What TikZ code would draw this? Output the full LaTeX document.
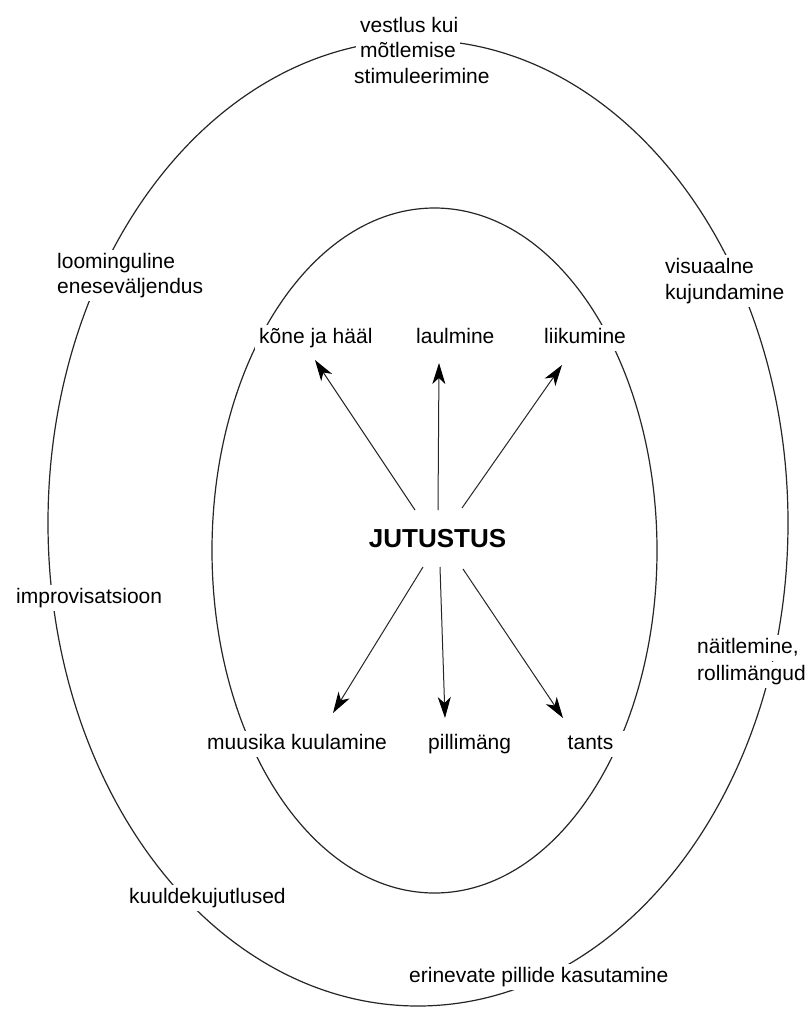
\documentclass[tikz,border=0pt]{standalone}
\usepackage{fontspec}
\setmainfont{Liberation Sans}
\usetikzlibrary{arrows.meta}
\begin{document}
\begin{tikzpicture}[x=1pt,y=-1pt,
  lbl/.style={font=\fontsize{21}{25}\selectfont, fill=white, inner xsep=4pt, inner ysep=2pt, text height=16pt, text depth=5.5pt, anchor=base west},
  ring/.style={draw=black!85, line width=1.2pt},
  arr/.style={draw=black!85, line width=1pt, -{Stealth[length=21pt,width=13pt,inset=6pt,color=black]}}]
\useasboundingbox[fill=white] (0,0) rectangle (804,1009);
% rings
\draw[ring] (418,523) ellipse [x radius=370, y radius=483];
\draw[ring] (434.5,550.5) ellipse [x radius=222.5, y radius=342.5];
% outer labels
\node[lbl] (v1) at (356,32) {vestlus kui};
\node[lbl] (v2) at (356,57.5) {mõtlemise};
\node[lbl] (v3) at (350,83) {stimuleerimine};
\node[lbl] (lo1) at (53,268) {loominguline};
\node[lbl] (lo2) at (53,293) {eneseväljendus};
\node[lbl] (vi1) at (661,273) {visuaalne};
\node[lbl] (vi2) at (661,299) {kujundamine};
\node[lbl] (imp) at (12,603) {improvisatsioon};
\node[lbl] (na1) at (693,653) {näitlemine,};
\node[lbl] (na2) at (693,680) {rollimängud};
\node[lbl] (ku) at (125,903) {kuuldekujutlused};
\node[lbl] (er) at (405,982) {erinevate pillide kasutamine};
% inner labels
\node[lbl] (kone) at (255,343) {kõne ja hääl};
\node[lbl] (laul) at (412,343) {laulmine};
\node[lbl] (liik) at (540,343) {liikumine};
\node[lbl] (muus) at (203,749) {muusika kuulamine};
\node[lbl] (pill) at (424,749) {pillimäng};
\node[lbl, anchor=base, minimum width=72pt] (tants) at (590.5,749) {tants};
% centre
\node[font=\fontsize{26}{30}\selectfont\bfseries, anchor=base] (J) at (437.5,547) {JUTUSTUS};
% arrow ends
\coordinate (s1) at (415,510); \coordinate (e1) at (315,360);
\coordinate (s2) at (438,510); \coordinate (e2) at (439,363);
\coordinate (s3) at (462,508); \coordinate (e3) at (562,365);
\coordinate (s4) at (423,567); \coordinate (e4) at (333,713);
\coordinate (s5) at (440,567); \coordinate (e5) at (445,718);
\coordinate (s6) at (463,569); \coordinate (e6) at (563,718);
\draw[arr] (s1) -- (e1);
\draw[arr] (s2) -- (e2);
\draw[arr] (s3) -- (e3);
\draw[arr] (s4) -- (e4);
\draw[arr] (s5) -- (e5);
\draw[arr] (s6) -- (e6);
\end{tikzpicture}
\end{document}
